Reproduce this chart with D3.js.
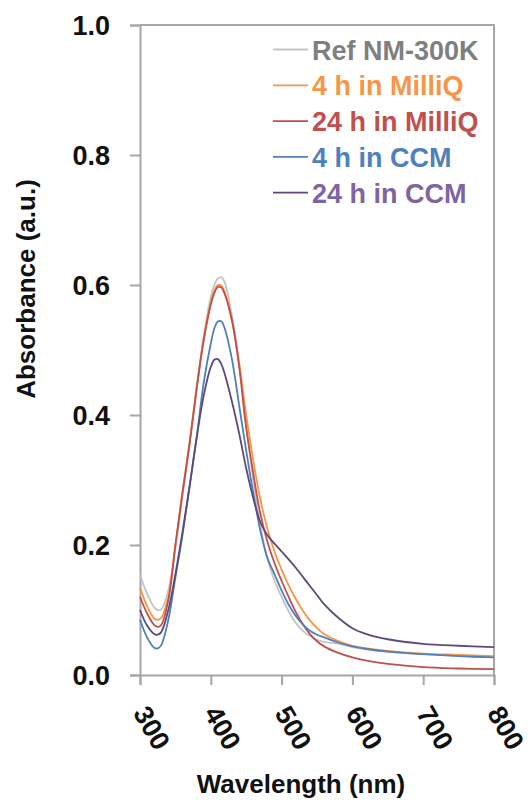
<!DOCTYPE html>
<html>
<head>
<meta charset="utf-8">
<script src="https://cdn.jsdelivr.net/npm/d3@7"></script>
<style>
  body { margin: 0; background: #fff; }
  text { font-family: "Liberation Sans", Arial, sans-serif; font-weight: bold; }
</style>
</head>
<body>
<svg id="chart"></svg>
<script>
var width = 530, height = 803;
var margin = {top: 25, right: 36, bottom: 128, left: 140};

// wavelength samples (nm)
var wavelengths = [300, 310, 320, 325, 330, 340, 350, 360, 370, 380, 390, 400, 405, 410, 415, 420,
    430, 440, 450, 460, 470, 480, 490, 500, 510, 520, 530, 540, 550, 560, 580, 600, 620, 650, 700, 750, 800];

var refNM300K = [0.154, 0.125, 0.104, 0.100, 0.101, 0.130, 0.195, 0.275, 0.355, 0.440, 0.520, 0.582, 0.600, 0.610, 0.612, 0.603,
    0.552, 0.480, 0.385, 0.300, 0.230, 0.178, 0.145, 0.120, 0.098, 0.080, 0.068, 0.060, 0.054, 0.051, 0.048, 0.043, 0.040, 0.036, 0.032, 0.030, 0.028];
var milliQ4h = [0.134, 0.106, 0.087, 0.085, 0.088, 0.120, 0.200, 0.282, 0.358, 0.443, 0.518, 0.573, 0.591, 0.600, 0.599, 0.588,
    0.545, 0.480, 0.400, 0.330, 0.270, 0.225, 0.190, 0.162, 0.138, 0.117, 0.099, 0.084, 0.072, 0.063, 0.052, 0.045, 0.041, 0.037, 0.033, 0.031, 0.029];
var milliQ24h = [0.120, 0.095, 0.077, 0.074, 0.077, 0.115, 0.200, 0.280, 0.355, 0.440, 0.515, 0.570, 0.588, 0.597, 0.596, 0.585,
    0.545, 0.475, 0.380, 0.310, 0.248, 0.205, 0.172, 0.145, 0.120, 0.097, 0.078, 0.063, 0.052, 0.044, 0.034, 0.027, 0.022, 0.017, 0.012, 0.010, 0.009];
var ccm4h = [0.085, 0.058, 0.042, 0.041, 0.046, 0.085, 0.150, 0.215, 0.290, 0.365, 0.450, 0.510, 0.533, 0.544, 0.544, 0.532,
    0.485, 0.415, 0.345, 0.280, 0.222, 0.180, 0.155, 0.130, 0.108, 0.091, 0.078, 0.068, 0.062, 0.058, 0.050, 0.044, 0.040, 0.036, 0.032, 0.029, 0.027];
var ccm24h = [0.100, 0.076, 0.063, 0.062, 0.066, 0.100, 0.155, 0.220, 0.290, 0.365, 0.430, 0.474, 0.485, 0.486, 0.478, 0.462,
    0.420, 0.372, 0.318, 0.272, 0.235, 0.215, 0.202, 0.190, 0.178, 0.165, 0.151, 0.137, 0.123, 0.109, 0.088, 0.072, 0.063, 0.055, 0.048, 0.045, 0.043];

var seriesNames = ["Ref NM-300K", "4 h in MilliQ", "24 h in MilliQ", "4 h in CCM", "24 h in CCM"];
var seriesValues = [refNM300K, milliQ4h, milliQ24h, ccm4h, ccm24h];
var xTicks = [300, 400, 500, 600, 700, 800];
var yTicks = [0, 0.2, 0.4, 0.6, 0.8, 1.0];

var lineColors = ["#c4c4c4", "#f79646", "#c0504d", "#4f81bd", "#5f497a"];
var textColors = ["#7f7f7f", "#f79646", "#c0504d", "#4f81bd", "#8064a2"];
var axisColor = "#a6a6a6";

var svg = d3.select("#chart").attr("width", width).attr("height", height);

var x = d3.scaleLinear().domain([300, 800]).range([margin.left, width - margin.right]);
var y = d3.scaleLinear().domain([0, 1]).range([height - margin.bottom, margin.top]);

// plot frame (top and right)
svg.append("path")
    .attr("d", "M" + x(300) + "," + y(1) + "H" + x(800) + "V" + y(0))
    .attr("fill", "none")
    .attr("stroke", axisColor)
    .attr("stroke-width", 2);

// y axis
var yAxis = svg.append("g")
    .attr("transform", "translate(" + x(300) + ",0)")
    .call(d3.axisLeft(y).tickValues(yTicks).tickFormat(d3.format(".1f")).tickSize(10).tickPadding(20));
yAxis.select(".domain").attr("stroke", axisColor).attr("stroke-width", 2);
yAxis.selectAll(".tick line").attr("stroke", axisColor).attr("stroke-width", 2);
yAxis.selectAll(".tick text")
    .attr("fill", "#111")
    .attr("font-size", 27)
    .attr("dy", "0.35em");

// x axis
var xAxis = svg.append("g")
    .attr("transform", "translate(0," + y(0) + ")")
    .call(d3.axisBottom(x).tickValues(xTicks).tickSize(10));
xAxis.select(".domain").attr("stroke", axisColor).attr("stroke-width", 2);
xAxis.selectAll(".tick line").attr("stroke", axisColor).attr("stroke-width", 2);
xAxis.selectAll(".tick text")
    .attr("fill", "#111")
    .attr("font-size", 27)
    .attr("text-anchor", "start")
    .attr("x", 0).attr("y", 0).attr("dy", 0)
    .attr("transform", "translate(-8,38) rotate(60)");

// axis titles
svg.append("text")
    .attr("x", 301).attr("y", 793)
    .attr("text-anchor", "middle")
    .attr("font-size", 26)
    .attr("fill", "#111")
    .text("Wavelength (nm)");

svg.append("text")
    .attr("transform", "translate(35,289) rotate(-90)")
    .attr("text-anchor", "middle")
    .attr("font-size", 26)
    .attr("fill", "#111")
    .text("Absorbance (a.u.)");

// spectra
var line = d3.line()
    .x(function (d, i) { return x(wavelengths[i]); })
    .y(function (d) { return y(d); })
    .curve(d3.curveCatmullRom.alpha(0.5));

svg.append("g").selectAll("path")
    .data(seriesValues)
    .join("path")
    .attr("d", line)
    .attr("fill", "none")
    .attr("stroke", function (d, i) { return lineColors[i]; })
    .attr("stroke-width", 1.8);

// legend
var legend = svg.append("g").selectAll("g")
    .data(seriesNames)
    .join("g")
    .attr("transform", function (d, i) { return "translate(273," + (59.5 + i * 35.8) + ")"; });

legend.append("line")
    .attr("x1", 0).attr("x2", 35)
    .attr("y1", -10).attr("y2", -10)
    .attr("stroke", function (d, i) { return lineColors[i]; })
    .attr("stroke-width", 1.8);

legend.append("text")
    .attr("x", 39)
    .attr("font-size", 27)
    .attr("fill", function (d, i) { return textColors[i]; })
    .text(function (d) { return d; });
</script>
</body>
</html>
